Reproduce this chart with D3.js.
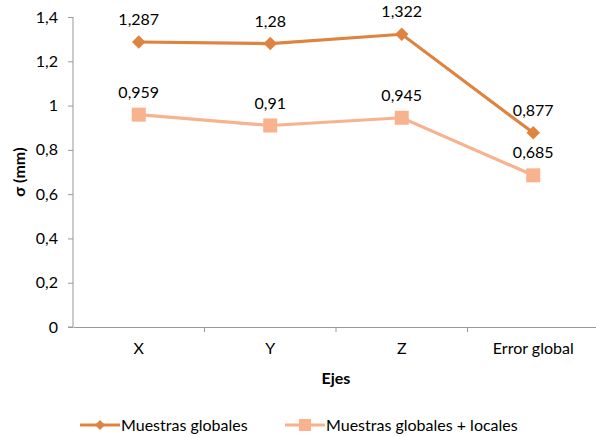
<!DOCTYPE html>
<html><head><meta charset="utf-8">
<script src="https://cdn.jsdelivr.net/npm/d3@7"></script>
<style>body{margin:0;background:#fff}svg{display:block;font-family:Lato,sans-serif}</style>
</head><body><svg id="c" width="596" height="437"></svg>
<script>
const categories = ["X", "Y", "Z", "Error global"];
const globales = [1.287, 1.28, 1.322, 0.877];
const globalesLocales = [0.959, 0.91, 0.945, 0.685];
const yTicks = [0, 0.2, 0.4, 0.6, 0.8, 1, 1.2, 1.4];
const seriesNames = ["Muestras globales", "Muestras globales + locales"];
const colors = ["#DE8340", "#F8B28D"];
const FS = 16;

const svg = d3.select("#c");
const m = {l: 73, r: -3, t: 17, b: 110};
const W = 596, H = 437;
const x = d3.scaleBand().domain(categories).range([m.l, W - m.r]);
const y = d3.scaleLinear().domain([0, 1.4]).range([H - m.b, m.t]);
const fmt = v => String(v).replace(".", ",");

// y axis
const ya = svg.append("g").attr("transform", `translate(${m.l},0)`)
  .call(d3.axisLeft(y).tickValues(yTicks).tickSize(5).tickPadding(10).tickFormat(fmt));
ya.select(".domain").attr("stroke", "#999").attr("d", `M-5,${y(0)}H0V${y(1.4)}`);
ya.selectAll(".tick line").attr("stroke", "#999");
ya.selectAll("text").attr("font-size", FS).attr("fill", "#000").attr("font-family", "Lato");

// x axis
const xa = svg.append("g").attr("transform", `translate(0,${y(0)})`)
  .call(d3.axisBottom(x).tickSize(0).tickPadding(16));
xa.select(".domain").attr("stroke", "#999");
xa.selectAll("text").attr("font-size", FS).attr("fill", "#000").attr("font-family", "Lato");
categories.slice(1).forEach(c => {
  xa.append("line").attr("x1", x(c)).attr("x2", x(c)).attr("y1", 0).attr("y2", 5).attr("stroke", "#999");
});

// axis titles
svg.append("text").attr("x", 336).attr("y", 384)
  .attr("text-anchor", "middle").attr("font-weight", "bold").attr("font-size", FS).text("Ejes");
svg.append("text").attr("transform", `translate(25,${(y(0) + y(1.4)) / 2}) rotate(-90)`)
  .attr("text-anchor", "middle").attr("font-weight", "bold").attr("font-size", FS).text("σ (mm)");

const cx = c => x(c) + x.bandwidth() / 2;
const line = d3.line().x((d, i) => cx(categories[i])).y(d => y(d));
const diamond = s => d3.symbol().type(d3.symbolSquare).size(s * s)();

[globales, globalesLocales].forEach((vals, si) => {
  svg.append("path").datum(vals).attr("d", line).attr("fill", "none")
    .attr("stroke", colors[si]).attr("stroke-width", 3.2);
  vals.forEach((v, i) => {
    const px = cx(categories[i]), py = y(v);
    if (si === 0) {
      svg.append("path").attr("d", diamond(9.5)).attr("transform", `translate(${px},${py}) rotate(45)`).attr("fill", colors[0]);
    } else {
      svg.append("rect").attr("x", px - 7).attr("y", py - 7).attr("width", 14).attr("height", 14).attr("fill", colors[1]);
    }
    svg.append("text").attr("x", px).attr("y", py - 17).attr("text-anchor", "middle")
      .attr("font-size", FS).text(fmt(v));
  });
});

// legend
const lg = [[80, 0], [285, 1]];
lg.forEach(([lx, si]) => {
  svg.append("line").attr("x1", lx).attr("x2", lx + 40).attr("y1", 425).attr("y2", 425)
    .attr("stroke", colors[si]).attr("stroke-width", 3.2);
  if (si === 0) svg.append("path").attr("d", diamond(7)).attr("transform", `translate(${lx + 20},425) rotate(45)`).attr("fill", colors[0]);
  else svg.append("rect").attr("x", lx + 14).attr("y", 419).attr("width", 12).attr("height", 12).attr("fill", colors[1]);
  svg.append("text").attr("x", lx + 41).attr("y", 431).attr("font-size", FS).text(seriesNames[si]);
});
</script></body></html>
